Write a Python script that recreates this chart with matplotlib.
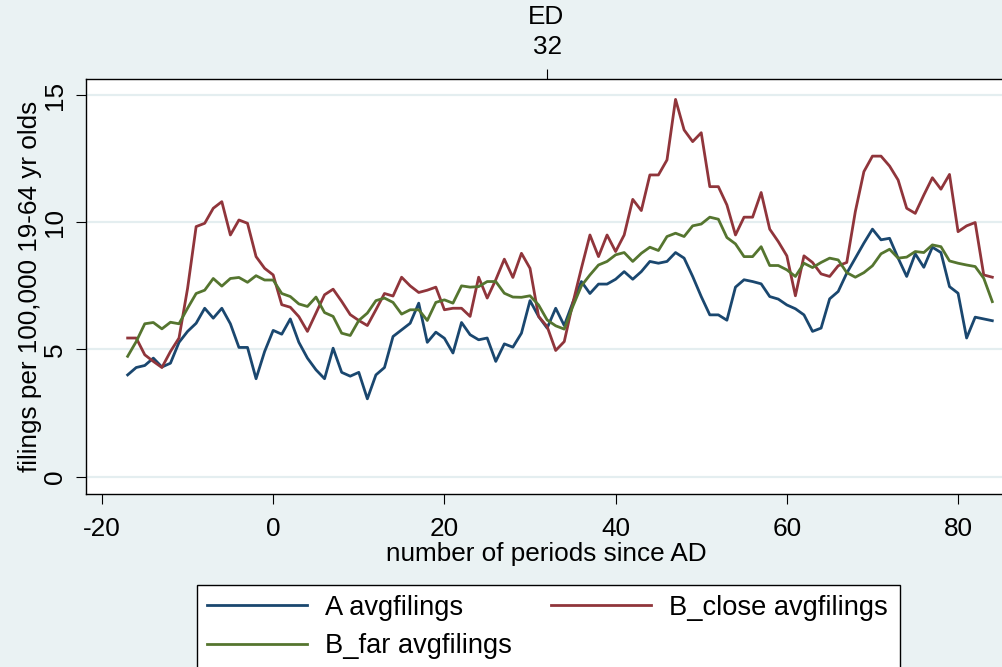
import matplotlib
matplotlib.use('Agg')
import matplotlib.pyplot as plt
from matplotlib.lines import Line2D
from matplotlib.patches import Rectangle
import numpy as np

# periods since AD
PERIODS = list(range(-17, 85))

A_FILINGS = [
    4.00, 4.29, 4.37, 4.66, 4.31, 4.46, 5.28, 5.71, 6.03, 6.62,
    6.23, 6.62, 6.01, 5.08, 5.08, 3.85, 4.92, 5.75, 5.60, 6.20,
    5.28, 4.66, 4.20, 3.85, 5.05, 4.10, 3.95, 4.10, 3.06, 4.00,
    4.29, 5.51, 5.77, 6.03, 6.82, 5.28, 5.68, 5.44, 4.86, 6.06,
    5.58, 5.38, 5.45, 4.53, 5.22, 5.09, 5.64, 6.92, 6.30, 5.84,
    6.62, 5.94, 6.85, 7.67, 7.20, 7.57, 7.57, 7.76, 8.06, 7.76,
    8.06, 8.46, 8.39, 8.46, 8.81, 8.59, 7.87, 7.08, 6.36, 6.36,
    6.15, 7.45, 7.74, 7.67, 7.58, 7.08, 6.98, 6.75, 6.60, 6.36,
    5.71, 5.84, 6.99, 7.28, 8.00, 8.59, 9.18, 9.73, 9.31, 9.37,
    8.59, 7.87, 8.76, 8.23, 9.02, 8.81, 7.47, 7.21, 5.45, 6.27,
    6.20, 6.13]

B_CLOSE_FILINGS = [
    5.45, 5.45, 4.79, 4.53, 4.29, 4.92, 5.45, 7.40, 9.83, 9.96,
    10.55, 10.81, 9.50, 10.09, 9.96, 8.65, 8.19, 7.93, 6.76, 6.66,
    6.29, 5.71, 6.43, 7.15, 7.37, 6.89, 6.37, 6.14, 5.94, 6.56,
    7.20, 7.10, 7.84, 7.50, 7.24, 7.33, 7.45, 6.56, 6.62, 6.62,
    6.30, 7.84, 7.02, 7.74, 8.55, 7.83, 8.78, 8.19, 6.30, 5.90,
    4.96, 5.31, 6.82, 8.19, 9.50, 8.65, 9.50, 8.85, 9.50, 10.90,
    10.46, 11.86, 11.86, 12.45, 14.83, 13.63, 13.17, 13.52, 11.40, 11.40,
    10.68, 9.50, 10.20, 10.20, 11.17, 9.73, 9.24, 8.68, 7.11, 8.68,
    8.42, 7.97, 7.87, 8.29, 8.42, 10.42, 11.99, 12.60, 12.60, 12.21,
    11.66, 10.55, 10.35, 11.07, 11.75, 11.30, 11.88, 9.63, 9.86, 9.99,
    7.93, 7.84]

B_FAR_FILINGS = [
    4.73, 5.31, 6.01, 6.06, 5.81, 6.07, 6.01, 6.62, 7.20, 7.33,
    7.79, 7.49, 7.79, 7.83, 7.64, 7.90, 7.73, 7.73, 7.20, 7.08,
    6.79, 6.69, 7.06, 6.45, 6.30, 5.64, 5.55, 6.14, 6.43, 6.92,
    7.02, 6.85, 6.39, 6.56, 6.56, 6.14, 6.85, 6.95, 6.82, 7.50,
    7.45, 7.47, 7.67, 7.67, 7.21, 7.06, 7.05, 7.11, 6.75, 6.16,
    5.93, 5.80, 6.69, 7.50, 7.93, 8.32, 8.46, 8.72, 8.81, 8.46,
    8.78, 9.02, 8.89, 9.44, 9.57, 9.44, 9.86, 9.93, 10.20, 10.12,
    9.40, 9.15, 8.65, 8.65, 9.04, 8.30, 8.30, 8.13, 7.87, 8.39,
    8.22, 8.42, 8.59, 8.52, 8.02, 7.84, 8.02, 8.29, 8.76, 8.94,
    8.59, 8.63, 8.85, 8.81, 9.11, 9.04, 8.48, 8.39, 8.32, 8.26,
    7.80, 6.88]

SERIES = ['A avgfilings', 'B_close avgfilings', 'B_far avgfilings']
COLORS = ['#1a476f', '#90353b', '#55752f']
X_TICKS = [-20, 0, 20, 40, 60, 80]
Y_TICKS = [0, 5, 10, 15]
ED_PERIOD = 32

BG = '#eaf2f3'
FONT = 18.8
LEG_FONT = 19.6
W, H = 1002, 667


def main():
    plt.rcParams['font.family'] = ['Liberation Sans', 'DejaVu Sans']
    plt.rcParams['axes.unicode_minus'] = False

    fig = plt.figure(figsize=(W / 100, H / 100), dpi=100, facecolor=BG)
    left, right, top, bottom = 85.7, 1006, 79.3, 493.7
    ax = fig.add_axes([left / W, 1 - bottom / H, (right - left) / W, (bottom - top) / H])
    ax.set_facecolor('white')

    x = np.array(PERIODS)
    for vals, color in zip([A_FILINGS, B_CLOSE_FILINGS, B_FAR_FILINGS], COLORS):
        ax.plot(x, vals, color=color, lw=2.0, zorder=3)

    ax.set_xlim(-21.9, 85.6)
    ax.set_ylim(-0.67, 15.62)
    ax.set_xticks(X_TICKS)
    ax.set_yticks(Y_TICKS)
    ax.grid(axis='y', color='#e4eef0', lw=1.6, zorder=0)
    ax.tick_params(direction='out', length=7.5, width=0.8, labelsize=FONT)
    ax.tick_params(axis='x', pad=9)
    ax.tick_params(axis='y', pad=6)
    for lab in ax.get_yticklabels():
        lab.set_rotation(90)
        lab.set_va('center')
    for sp in ax.spines.values():
        sp.set_color('black')
        sp.set_linewidth(1.0)
    ax.set_xlabel('number of periods since AD', fontsize=FONT, labelpad=1)
    ax.set_ylabel('filings per 100,000 19-64 yr olds', fontsize=FONT, labelpad=1)

    # top axis marking the ED period
    ax2 = ax.twiny()
    ax2.set_xlim(ax.get_xlim())
    ax2.set_xticks([ED_PERIOD])
    ax2.set_xticklabels([str(ED_PERIOD)])
    ax2.tick_params(direction='out', length=7.5, width=0.8, labelsize=FONT, pad=7)
    ax2.set_xlabel('ED', fontsize=FONT, labelpad=8)
    for sp in ax2.spines.values():
        sp.set_visible(False)

    # legend box, cut off at the bottom like the original
    fig.patches.append(Rectangle((197 / W, -0.1), (900 - 197) / W, (H - 585) / H + 0.1,
                                 transform=fig.transFigure, facecolor='white',
                                 edgecolor='black', lw=1.0, zorder=1))
    # column-major fill: A, B_far in col 1; B_close in col 2
    order = [0, 2, 1]
    handles = [Line2D([], [], color=COLORS[i], lw=2.0) for i in order]
    labels = [SERIES[i] for i in order]
    fig.legend(handles, labels, loc='upper left', bbox_to_anchor=(207 / W, 1 - 595 / H),
               ncol=2, frameon=False, fontsize=LEG_FONT, handlelength=3.68,
               handletextpad=0.66, columnspacing=1.43, labelspacing=0.45,
               borderpad=0, borderaxespad=0)

    fig.savefig('out.png', dpi=100, facecolor=BG)


if __name__ == "__main__":
    main()
